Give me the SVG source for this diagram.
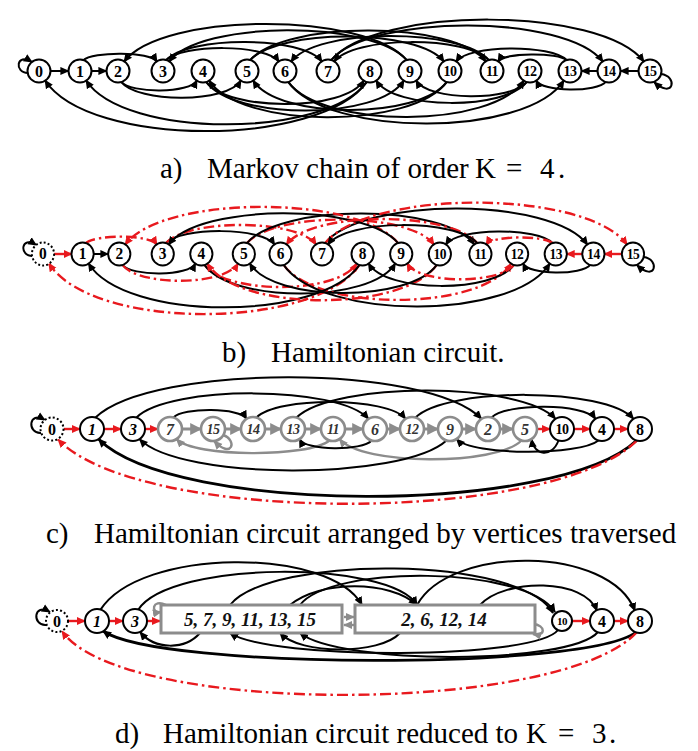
<svg xmlns="http://www.w3.org/2000/svg" width="698" height="751" viewBox="0 0 698 751">
<defs>
<marker id="ak" viewBox="0 0 10 10" refX="9" refY="5" markerWidth="9" markerHeight="9" markerUnits="userSpaceOnUse" orient="auto"><path d="M0,0.5 L10,5 L0,9.5 z" fill="#000"/></marker>
<marker id="ar" viewBox="0 0 10 10" refX="9" refY="5" markerWidth="9" markerHeight="9" markerUnits="userSpaceOnUse" orient="auto"><path d="M0,0.5 L10,5 L0,9.5 z" fill="#e8191e"/></marker>
<marker id="ag" viewBox="0 0 10 10" refX="9" refY="5" markerWidth="9" markerHeight="9" markerUnits="userSpaceOnUse" orient="auto"><path d="M0,0.5 L10,5 L0,9.5 z" fill="#8c8c8c"/></marker>
<marker id="ag2" viewBox="0 0 10 10" refX="9" refY="5" markerWidth="12" markerHeight="12" markerUnits="userSpaceOnUse" orient="auto"><path d="M0,0 L10,5 L0,10 z" fill="#8c8c8c"/></marker>
</defs>
<style>
.e{fill:none;stroke:#000;stroke-width:2;marker-end:url(#ak)}
.eb{fill:none;stroke:#000;stroke-width:2.8;marker-end:url(#ak)}
.r{fill:none;stroke:#e8191e;stroke-width:2.4;stroke-dasharray:11 4 2.5 4;marker-end:url(#ar)}
.rs{fill:none;stroke:#e8191e;stroke-width:2.4;marker-end:url(#ar)}
.g{fill:none;stroke:#8c8c8c;stroke-width:2.4;marker-end:url(#ag)}
.gs{fill:none;stroke:#8c8c8c;stroke-width:3;marker-end:url(#ag2)}
.n circle{fill:#fff;stroke:#000;stroke-width:2}
.n text{font-family:"Liberation Serif","Times New Roman",serif;font-weight:bold;font-size:16px;text-anchor:middle;fill:#000}
.n text.w{font-size:14px;letter-spacing:-0.5px}
.dot circle{stroke-dasharray:2 2.2}
.gn circle{stroke:#8c8c8c;stroke-width:2.6}
.gn text{fill:#333}
.it text{font-style:italic}
.box rect{fill:#fff;stroke:#8c8c8c;stroke-width:3}
.box text{font-family:"Liberation Serif","Times New Roman",serif;font-weight:bold;font-style:italic;font-size:19px;text-anchor:middle;fill:#111}
.cap{font-family:"Liberation Serif","Times New Roman",serif;font-size:29px;fill:#000}
</style>
<rect width="698" height="751" fill="#fff"/>

<!-- ===== Panel a ===== -->
<g id="panel-a">
<g id="connectors-a">
<path class="e" d="M28,73 C14,73 16,52 32,62"/>
<path class="e" d="M661,74 C678,76 674,100 654,82"/>
<path class="e" d="M50.5,71 L68.5,71"/>
<path class="e" d="M91.5,71 L106.5,71"/>
<path class="e" d="M598,71 L581.5,71"/>
<path class="e" d="M638.5,71 L620.5,71"/>
<path class="e" d="M83,60.4 C92.5,51.2 150.5,51.2 157,61.8"/>
<path class="e" d="M166,60.4 C181.3,43.8 266.7,43.8 279,61.8"/>
<path class="e" d="M166,60.4 C187.8,35.6 303.3,35.6 322,61.8"/>
<path class="e" d="M250,60.4 C277.5,28.4 419.5,28.4 444,61.8"/>
<path class="e" d="M250,60.4 C283.8,20.4 455.3,20.4 486,61.8"/>
<path class="e" d="M331,60.4 C370.2,13.6 566.8,13.6 603,61.8"/>
<path class="e" d="M331,60.4 C376.3,5.8 601.7,5.8 644,61.8"/>
<path class="e" d="M407,60.4 C366.2,11.5 161.8,11.5 124,61.8"/>
<path class="e" d="M407,60.4 C373,20.1 200,20.1 169,61.8"/>
<path class="e" d="M489,60.4 C461,27.7 316,27.7 291,61.8"/>
<path class="e" d="M489,60.4 C467.4,35.8 352.6,35.8 334,61.8"/>
<path class="e" d="M567,60.4 C552,44.2 468,44.2 456,61.8"/>
<path class="e" d="M567,60.4 C558.3,52.2 503.7,52.2 498,61.8"/>
<path class="e" d="M121,81.6 C130.8,93.7 190.3,93.7 197,80.2"/>
<path class="e" d="M121,81.6 C137.4,103.4 227.6,103.4 241,80.2"/>
<path class="e" d="M206,81.6 C228,111.7 345,111.7 364,80.2"/>
<path class="e" d="M206,81.6 C234,120.5 379,120.5 404,80.2"/>
<path class="e" d="M288,81.6 C321.8,128.9 493.3,128.9 524,80.2"/>
<path class="e" d="M288,81.6 C327.8,137.7 527.3,137.7 564,80.2"/>
<path class="e" d="M367,81.6 C320.4,147.8 88.6,147.8 45,80.2"/>
<path class="e" d="M367,81.6 C326.5,138.8 123.5,138.8 86,80.2"/>
<path class="e" d="M447,81.6 C413,129.3 240,129.3 209,80.2"/>
<path class="e" d="M447,81.6 C419.5,119.7 277.5,119.7 253,80.2"/>
<path class="e" d="M527,81.6 C506,110.2 394,110.2 376,80.2"/>
<path class="e" d="M527,81.6 C512,101.4 428,101.4 416,80.2"/>
<path class="e" d="M606,81.6 C597.2,92.4 541.8,92.4 536,80.2"/>
</g>
<g id="a0" class="n"><circle cx="39" cy="71" r="11.5"/><text x="39" y="76.5">0</text></g>
<g id="a1" class="n"><circle cx="80" cy="71" r="11.5"/><text x="80" y="76.5">1</text></g>
<g id="a2" class="n"><circle cx="118" cy="71" r="11.5"/><text x="118" y="76.5">2</text></g>
<g id="a3" class="n"><circle cx="163" cy="71" r="11.5"/><text x="163" y="76.5">3</text></g>
<g id="a4" class="n"><circle cx="203" cy="71" r="11.5"/><text x="203" y="76.5">4</text></g>
<g id="a5" class="n"><circle cx="247" cy="71" r="11.5"/><text x="247" y="76.5">5</text></g>
<g id="a6" class="n"><circle cx="285" cy="71" r="11.5"/><text x="285" y="76.5">6</text></g>
<g id="a7" class="n"><circle cx="328" cy="71" r="11.5"/><text x="328" y="76.5">7</text></g>
<g id="a8" class="n"><circle cx="370" cy="71" r="11.5"/><text x="370" y="76.5">8</text></g>
<g id="a9" class="n"><circle cx="410" cy="71" r="11.5"/><text x="410" y="76.5">9</text></g>
<g id="a10" class="n"><circle cx="450" cy="71" r="11.5"/><text class="w" x="450" y="76">10</text></g>
<g id="a11" class="n"><circle cx="492" cy="71" r="11.5"/><text class="w" x="492" y="76">11</text></g>
<g id="a12" class="n"><circle cx="530" cy="71" r="11.5"/><text class="w" x="530" y="76">12</text></g>
<g id="a13" class="n"><circle cx="570" cy="71" r="11.5"/><text class="w" x="570" y="76">13</text></g>
<g id="a14" class="n"><circle cx="609" cy="71" r="11.5"/><text class="w" x="609" y="76">14</text></g>
<g id="a15" class="n"><circle cx="650" cy="71" r="11.5"/><text class="w" x="650" y="76">15</text></g>
</g>
<text class="cap" xml:space="preserve"><tspan x="160" y="178">a)</tspan><tspan x="207" y="178">Markov chain of order</tspan><tspan x="475" y="178">K</tspan><tspan x="506" y="178">=</tspan><tspan x="540" y="178">4</tspan><tspan x="558" y="178">.</tspan></text>

<!-- ===== Panel b ===== -->
<g id="panel-b" transform="matrix(0.9656 0 0 1 5.34 183)">
<g id="connectors-b">
<path class="e" d="M28,73 C14,73 16,52 32,62"/>
<path class="e" d="M661,74 C678,76 674,100 654,82"/>
<path class="rs" d="M50.5,71 L68.5,71"/>
<path class="e" d="M91.5,71 L106.5,71"/>
<path class="rs" d="M598,71 L581.5,71"/>
<path class="rs" d="M638.5,71 L620.5,71"/>
<path class="r" d="M83,60.4 C92.5,51.2 150.5,51.2 157,61.8"/>
<path class="e" d="M166,60.4 C181.3,43.8 266.7,43.8 279,61.8"/>
<path class="r" d="M166,60.4 C187.8,35.6 303.3,35.6 322,61.8"/>
<path class="r" d="M250,60.4 C277.5,28.4 419.5,28.4 444,61.8"/>
<path class="e" d="M250,60.4 C283.8,20.4 455.3,20.4 486,61.8"/>
<path class="e" d="M331,60.4 C370.2,13.6 566.8,13.6 603,61.8"/>
<path class="r" d="M331,60.4 C376.3,5.8 601.7,5.8 644,61.8"/>
<path class="r" d="M407,60.4 C366.2,11.5 161.8,11.5 124,61.8"/>
<path class="e" d="M407,60.4 C373,20.1 200,20.1 169,61.8"/>
<path class="r" d="M489,60.4 C461,27.7 316,27.7 291,61.8"/>
<path class="e" d="M489,60.4 C467.4,35.8 352.6,35.8 334,61.8"/>
<path class="e" d="M567,60.4 C552,44.2 468,44.2 456,61.8"/>
<path class="r" d="M567,60.4 C558.3,52.2 503.7,52.2 498,61.8"/>
<path class="e" d="M121,81.6 C130.8,93.7 190.3,93.7 197,80.2"/>
<path class="r" d="M121,81.6 C137.4,103.4 227.6,103.4 241,80.2"/>
<path class="r" d="M206,81.6 C228,111.7 345,111.7 364,80.2"/>
<path class="e" d="M206,81.6 C234,120.5 379,120.5 404,80.2"/>
<path class="r" d="M288,81.6 C321.8,128.9 493.3,128.9 524,80.2"/>
<path class="e" d="M288,81.6 C327.8,137.7 527.3,137.7 564,80.2"/>
<path class="r" d="M367,81.6 C320.4,147.8 88.6,147.8 45,80.2"/>
<path class="e" d="M367,81.6 C326.5,138.8 123.5,138.8 86,80.2"/>
<path class="r" d="M447,81.6 C413,129.3 240,129.3 209,80.2"/>
<path class="e" d="M447,81.6 C419.5,119.7 277.5,119.7 253,80.2"/>
<path class="e" d="M527,81.6 C506,110.2 394,110.2 376,80.2"/>
<path class="r" d="M527,81.6 C512,101.4 428,101.4 416,80.2"/>
<path class="e" d="M606,81.6 C597.2,92.4 541.8,92.4 536,80.2"/>
</g>
<g id="b0" class="n dot"><circle cx="39" cy="71" r="11.5"/><text x="39" y="76.5">0</text></g>
<g id="b1" class="n"><circle cx="80" cy="71" r="11.5"/><text x="80" y="76.5">1</text></g>
<g id="b2" class="n"><circle cx="118" cy="71" r="11.5"/><text x="118" y="76.5">2</text></g>
<g id="b3" class="n"><circle cx="163" cy="71" r="11.5"/><text x="163" y="76.5">3</text></g>
<g id="b4" class="n"><circle cx="203" cy="71" r="11.5"/><text x="203" y="76.5">4</text></g>
<g id="b5" class="n"><circle cx="247" cy="71" r="11.5"/><text x="247" y="76.5">5</text></g>
<g id="b6" class="n"><circle cx="285" cy="71" r="11.5"/><text x="285" y="76.5">6</text></g>
<g id="b7" class="n"><circle cx="328" cy="71" r="11.5"/><text x="328" y="76.5">7</text></g>
<g id="b8" class="n"><circle cx="370" cy="71" r="11.5"/><text x="370" y="76.5">8</text></g>
<g id="b9" class="n"><circle cx="410" cy="71" r="11.5"/><text x="410" y="76.5">9</text></g>
<g id="b10" class="n"><circle cx="450" cy="71" r="11.5"/><text class="w" x="450" y="76">10</text></g>
<g id="b11" class="n"><circle cx="492" cy="71" r="11.5"/><text class="w" x="492" y="76">11</text></g>
<g id="b12" class="n"><circle cx="530" cy="71" r="11.5"/><text class="w" x="530" y="76">12</text></g>
<g id="b13" class="n"><circle cx="570" cy="71" r="11.5"/><text class="w" x="570" y="76">13</text></g>
<g id="b14" class="n"><circle cx="609" cy="71" r="11.5"/><text class="w" x="609" y="76">14</text></g>
<g id="b15" class="n"><circle cx="650" cy="71" r="11.5"/><text class="w" x="650" y="76">15</text></g>
</g>
<text class="cap" xml:space="preserve"><tspan x="222" y="362">b)</tspan><tspan x="271" y="362">Hamiltonian circuit.</tspan></text>

<!-- ===== Panel c ===== -->
<g id="panel-c">
<g id="connectors-c">
<path class="e" d="M41,433 C27,434 28,410 45,420"/>
<path class="g" d="M223,435 C238,440 232,460 214,441"/>
<path class="e" d="M95.5,417.5 C151.4,363.6 428.6,363.6 481.5,418.9"/>
<path class="e" d="M136.5,417.5 C169.3,385.1 338.7,385.1 368.5,418.9"/>
<path class="e" d="M173.5,417.5 C182.5,407.4 240.5,407.4 246.5,418.9"/>
<path class="e" d="M256.5,417.5 C276.9,396.7 388.1,396.7 405.5,418.9"/>
<path class="e" d="M296.5,417.5 C333.4,381.3 521.6,381.3 555.5,418.9"/>
<path class="e" d="M491.5,417.5 C505.1,403 584.9,403 595.5,418.9"/>
<path class="e" d="M415.5,417.5 C446.2,387.1 605.8,387.1 633.5,418.9"/>
<path class="g" d="M329.5,440.5 C308.6,457.5 194.5,457.5 176.5,439.1"/>
<path class="g" d="M521.5,440.5 C496.2,465.8 361.8,465.8 339.5,439.1"/>
<path class="eb" d="M636.5,440.5 C557.8,515.2 174.2,515.2 98.5,439.1"/>
<path class="e" d="M598.5,440.5 C579.2,455.8 472.8,455.8 456.5,439.1"/>
<path class="e" d="M558.5,440.5 C552,458 534,456 531.5,439.1"/>
<path class="e" d="M446.5,440.5 C402.5,480.6 180.5,480.6 139.5,439.1"/>
<path class="e" d="M371.5,440.5 C362.7,451 305.3,451 299.5,439.1"/>
<path class="r" d="M637,440.5 C551.8,525 140.2,525 58,439.5"/>
<path class="rs" d="M64,429 L80,429"/>
<path class="rs" d="M104,429 L121,429"/>
<path class="rs" d="M145,429 L158,429"/>
<path class="rs" d="M537,429 L550,429"/>
<path class="rs" d="M574,429 L590,429"/>
<path class="rs" d="M614,429 L628,429"/>
<path class="gs" d="M182,429 L201,429"/>
<path class="gs" d="M225,429 L241,429"/>
<path class="gs" d="M265,429 L281,429"/>
<path class="gs" d="M305,429 L321,429"/>
<path class="gs" d="M345,429 L363,429"/>
<path class="gs" d="M387,429 L400,429"/>
<path class="gs" d="M424,429 L438,429"/>
<path class="gs" d="M462,429 L476,429"/>
<path class="gs" d="M500,429 L513,429"/>
</g>
<g id="c0" class="n dot"><circle cx="52" cy="429" r="11.5"/><text x="52" y="434.5">0</text></g>
<g id="c1" class="n it"><circle cx="92" cy="429" r="12"/><text x="92" y="434.5">1</text></g>
<g id="c3" class="n it"><circle cx="133" cy="429" r="12"/><text x="133" y="434.5">3</text></g>
<g id="c7" class="n gn it"><circle cx="170" cy="429" r="12"/><text x="170" y="434.5">7</text></g>
<g id="c15" class="n gn it"><circle cx="213" cy="429" r="12"/><text class="w" x="213" y="434">15</text></g>
<g id="c14" class="n gn it"><circle cx="253" cy="429" r="12"/><text class="w" x="253" y="434">14</text></g>
<g id="c13" class="n gn it"><circle cx="293" cy="429" r="12"/><text class="w" x="293" y="434">13</text></g>
<g id="c11" class="n gn it"><circle cx="333" cy="429" r="12"/><text class="w" x="333" y="434">11</text></g>
<g id="c6" class="n gn it"><circle cx="375" cy="429" r="12"/><text x="375" y="434.5">6</text></g>
<g id="c12" class="n gn it"><circle cx="412" cy="429" r="12"/><text class="w" x="412" y="434">12</text></g>
<g id="c9" class="n gn it"><circle cx="450" cy="429" r="12"/><text x="450" y="434.5">9</text></g>
<g id="c2" class="n gn it"><circle cx="488" cy="429" r="12"/><text x="488" y="434.5">2</text></g>
<g id="c5" class="n gn it"><circle cx="525" cy="429" r="12"/><text x="525" y="434.5">5</text></g>
<g id="c10" class="n"><circle cx="562" cy="429" r="12"/><text class="w" x="562" y="434">10</text></g>
<g id="c4" class="n"><circle cx="602" cy="429" r="12"/><text x="602" y="434.5">4</text></g>
<g id="c8" class="n"><circle cx="640" cy="429" r="12"/><text x="640" y="434.5">8</text></g>
</g>
<text class="cap" xml:space="preserve"><tspan x="46" y="543">c)</tspan><tspan x="94" y="543">Hamiltonian circuit arranged by vertices traversed</tspan></text>

<!-- ===== Panel d ===== -->
<g id="panel-d">
<g id="connectors-d">
<path class="e" d="M46,625 C32,626 33,602 50,612"/>
<path class="e" d="M100,610.4 C140,547 330,547 362,605"/>
<path class="e" d="M138,610 C170,560 390,560 417,605"/>
<path class="e" d="M230,605 C270,555 520,555 553,613"/>
<path class="e" d="M300,605 C330,565 525,565 555,612"/>
<path class="e" d="M290,605 C320,580 390,580 417,605"/>
<path class="e" d="M417,605 C450,545 610,545 635,611"/>
<path class="e" d="M480,605 C505,578 585,578 597,611"/>
<path class="eb" d="M636,632 C590,670 160,670 103,631"/>
<path class="e" d="M598,632 C570,665 340,665 300,633"/>
<path class="e" d="M558,630 C535,660 270,660 230,633"/>
<path class="e" d="M200,633 C185,650 155,650 140,632"/>
<path class="e" d="M400,633 C380,655 300,655 280,633"/>
<path class="r" d="M637,632 C560,716 120,716 62,631"/>
<path class="rs" d="M68,621 L85,621"/>
<path class="rs" d="M109,621 L123,621"/>
<path class="rs" d="M147,621 L160,621"/>
<path class="rs" d="M572,621 L590,621"/>
<path class="rs" d="M614,621 L628,621"/>
<path class="g" d="M344,617 L354,617"/>
<path class="g" d="M354,625 L344,625"/>
<path class="g" d="M166,605 C152,598 150,614 161,612"/>
<path class="g" d="M533,624 C546,625 546,637 533,634"/>
</g>
<g id="d0" class="n dot"><circle cx="57" cy="621" r="11"/><text x="57" y="626.5">0</text></g>
<g id="d1" class="n it"><circle cx="97" cy="621" r="12"/><text x="97" y="626.5">1</text></g>
<g id="d3" class="n it"><circle cx="135" cy="621" r="12"/><text x="135" y="626.5">3</text></g>
<g id="dodd" class="box"><rect x="161" y="605" width="181" height="28"/><text x="250" y="626">5, 7, 9, 11, 13, 15</text></g>
<g id="deven" class="box"><rect x="355" y="605" width="180" height="28"/><text x="444" y="626">2, 6, 12, 14</text></g>
<g id="d10" class="n"><circle cx="562" cy="621" r="10"/><text x="562" y="625" style="font-size:11px;letter-spacing:-0.5px">10</text></g>
<g id="d4" class="n"><circle cx="602" cy="621" r="12"/><text x="602" y="626.5">4</text></g>
<g id="d8" class="n"><circle cx="640" cy="621" r="12"/><text x="640" y="626.5">8</text></g>
</g>
<text class="cap" xml:space="preserve"><tspan x="115" y="743">d)</tspan><tspan x="163" y="743">Hamiltonian circuit reduced to</tspan><tspan x="526" y="743">K</tspan><tspan x="558" y="743">=</tspan><tspan x="592" y="743">3</tspan><tspan x="609" y="743">.</tspan></text>
</svg>
